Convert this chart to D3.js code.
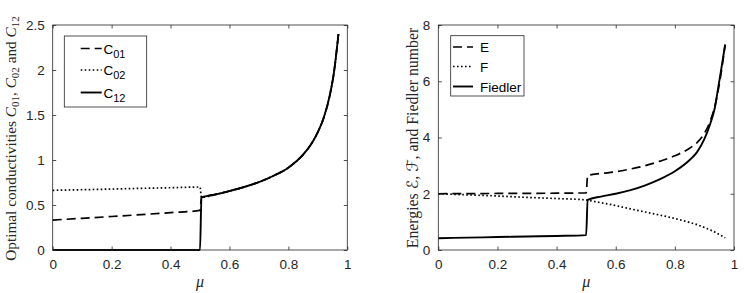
<!DOCTYPE html>
<html><head><meta charset="utf-8">
<script src="https://cdn.jsdelivr.net/npm/d3@7"></script>
<style>body{margin:0;background:#fff}svg{display:block}</style>
</head><body><svg id="c" width="750" height="293"></svg>
<script>
// ---------- data ----------
// Left panel: optimal conductivities
const muLow = [0, 0.1, 0.2, 0.3, 0.4, 0.5];
const c01Low = [0.333, 0.352, 0.372, 0.393, 0.415, 0.44];
const c02Low = [0.663, 0.670, 0.677, 0.685, 0.692, 0.70];
const c12Low = [0, 0, 0, 0, 0, 0];
const muHighL = [0.505, 0.55, 0.6, 0.65, 0.7, 0.75, 0.8, 0.85, 0.88, 0.9, 0.92, 0.94, 0.955, 0.97];
const cHigh  = [0.585, 0.615, 0.655, 0.70, 0.755, 0.825, 0.915, 1.06, 1.19, 1.31, 1.47, 1.71, 1.98, 2.40];

// Right panel: energies and Fiedler number
const eLow       = [2.00, 2.005, 2.01, 2.015, 2.02, 2.03];
const fLow       = [2.00, 1.96, 1.92, 1.87, 1.83, 1.78];
const fiedlerLow = [0.42, 0.44, 0.46, 0.48, 0.50, 0.53];
const muHighR    = [0.505, 0.55, 0.6, 0.65, 0.7, 0.75, 0.8, 0.85, 0.875, 0.9, 0.92, 0.935, 0.947, 0.958, 0.97];
const eHigh      = [2.65, 2.72, 2.78, 2.88, 3.00, 3.16, 3.35, 3.62, 3.82, 4.15, 4.60, 5.10, 5.70, 6.40, 7.30];
const fHigh      = [1.77, 1.68, 1.58, 1.46, 1.35, 1.24, 1.12, 0.98, 0.90, 0.80, 0.71, 0.64, 0.57, 0.51, 0.43];
const fiedlerHigh= [1.78, 1.90, 2.00, 2.13, 2.30, 2.52, 2.80, 3.20, 3.48, 3.95, 4.50, 5.05, 5.80, 6.50, 7.30];

const xTicks = [0, 0.2, 0.4, 0.6, 0.8, 1];
const xTickLabels = ["0", "0.2", "0.4", "0.6", "0.8", "1"];
const yTicksL = [0, 0.5, 1, 1.5, 2, 2.5];
const yTickLabelsL = ["0", "0.5", "1", "1.5", "2", "2.5"];
const yTicksR = [0, 2, 4, 6, 8];
const yTickLabelsR = ["0", "2", "4", "6", "8"];

// ---------- drawing ----------
const svg = d3.select('#c');
const AX = '#262626';
const SANS = '"Liberation Sans", Arial, Helvetica, sans-serif';
const SERIF = '"Liberation Serif", "DejaVu Serif", serif';
const styles = {
  dashed: {dash: '9,5', w: 1.7},
  dotted: {dash: '1.6,2.4', w: 1.7},
  solid:  {dash: null, w: 1.9}
};

function panel(o) {
  const g = svg.append('g');
  const x = d3.scaleLinear().domain([0, 1]).range([o.x0, o.x1]);
  const y = d3.scaleLinear().domain([0, o.ymax]).range([250, 25]);

  // series
  const line = d3.line().x(d => x(d[0])).y(d => y(d[1])).curve(d3.curveMonotoneX);
  o.series.forEach(s => {
    const pts = s.mu.map((m, i) => [m, s.v[i]]);
    const st = styles[s.style];
    g.append('path').attr('d', line(pts)).attr('fill', 'none')
      .attr('stroke', '#000').attr('stroke-width', st.w)
      .attr('stroke-dasharray', st.dash).attr('stroke-linejoin', 'round');
  });

  // axes
  const fmtX = (d, i) => xTickLabels[i];
  const fmtY = (d, i) => o.yLabels[i];
  const bottom = g.append('g').attr('transform', `translate(0,250)`)
    .call(d3.axisBottom(x).tickValues(xTicks).tickFormat(fmtX).tickSize(-3.5).tickPadding(9));
  const top = g.append('g').attr('transform', `translate(0,25)`)
    .call(d3.axisTop(x).tickValues(xTicks).tickFormat('').tickSize(-3.5));
  const left = g.append('g').attr('transform', `translate(${o.x0},0)`)
    .call(d3.axisLeft(y).tickValues(o.yTicks).tickFormat(fmtY).tickSize(-3.5).tickPadding(8));
  const right = g.append('g').attr('transform', `translate(${o.x1},0)`)
    .call(d3.axisRight(y).tickValues(o.yTicks).tickFormat('').tickSize(-3.5));
  [bottom, top, left, right].forEach(a => {
    a.select('.domain').remove();
    a.selectAll('line').attr('stroke', AX).attr('stroke-width', 0.8);
    a.selectAll('text').attr('fill', AX).style('font-family', SANS).style('font-size', '13.5px');
  });
  g.append('rect').attr('x', x(0)).attr('y', y(o.ymax))
    .attr('width', x(1) - x(0)).attr('height', y(0) - y(o.ymax))
    .attr('fill', 'none').attr('stroke', AX).attr('stroke-width', 0.8);

  // x label
  g.append('text').attr('x', (o.x0 + o.x1) / 2).attr('y', 287)
    .attr('text-anchor', 'middle').style('font-family', SERIF)
    .style('font-style', 'italic').style('font-size', '16px').attr('fill', AX).text('μ');

  // y label
  const yl = g.append('text').attr('transform', `translate(${o.ylx},${o.ylc}) rotate(-90)`)
    .attr('text-anchor', 'middle').style('font-family', SERIF).style('font-size', o.ylSize + 'px')
    .attr('fill', AX);
  o.ylParts.forEach(p => {
    const t = yl.append('tspan').text(p.t);
    if (p.i) t.style('font-style', 'italic');
    if (p.f) t.style('font-family', p.f);
    if (p.sub) t.attr('dy', 3).style('font-size', (o.ylSize * 0.72) + 'px');
    if (p.back) t.attr('dy', -3);
  });

  // legend
  const L = o.legend;
  g.append('rect').attr('x', L.x).attr('y', L.y).attr('width', L.w).attr('height', L.h)
    .attr('fill', '#fff').attr('stroke', AX).attr('stroke-width', 0.8);
  L.items.forEach((it, i) => {
    const yy = L.rows[i];
    const st = styles[it.style];
    g.append('line').attr('x1', L.lx1).attr('x2', L.lx2).attr('y1', yy).attr('y2', yy)
      .attr('stroke', '#000').attr('stroke-width', st.w).attr('stroke-dasharray', st.dash);
    const t = g.append('text').attr('x', L.tx).attr('y', yy + 5)
      .style('font-family', SANS).style('font-size', '13.5px').attr('fill', '#000');
    t.append('tspan').text(it.name);
    if (it.sub) t.append('tspan').attr('dy', 4).style('font-size', '11px').text(it.sub);
  });
}

panel({
  x0: 52.7, x1: 347.3, ymax: 2.5, yTicks: yTicksL, yLabels: yTickLabelsL,
  series: [
    {mu: muLow.concat(muHighL), v: c01Low.concat(cHigh), style: 'dashed'},
    {mu: muLow.concat(muHighL), v: c02Low.concat(cHigh), style: 'dotted'},
    {mu: muLow.concat(muHighL), v: c12Low.concat(cHigh), style: 'solid'}
  ],
  ylx: 16, ylc: 138.5, ylSize: 15.3,
  ylParts: [
    {t: 'Optimal conductivities '}, {t: 'C', i: true}, {t: '01', sub: true}, {t: ', ', back: true},
    {t: 'C', i: true}, {t: '02', sub: true}, {t: ' and ', back: true},
    {t: 'C', i: true}, {t: '12', sub: true}
  ],
  legend: {x: 64.3, y: 36, w: 82.4, h: 71, lx1: 80.7, lx2: 101.7, tx: 103.5, rows: [48.5, 70, 92.5],
    items: [{name: 'C', sub: '01', style: 'dashed'}, {name: 'C', sub: '02', style: 'dotted'}, {name: 'C', sub: '12', style: 'solid'}]}
});

panel({
  x0: 438.3, x1: 734, ymax: 8, yTicks: yTicksR, yLabels: yTickLabelsR,
  series: [
    {mu: muLow.concat(muHighR), v: eLow.concat(eHigh), style: 'dashed'},
    {mu: muLow.concat(muHighR), v: fLow.concat(fHigh), style: 'dotted'},
    {mu: muLow.concat(muHighR), v: fiedlerLow.concat(fiedlerHigh), style: 'solid'}
  ],
  ylx: 418, ylc: 138, ylSize: 15.8,
  ylParts: [{t: 'Energies '}, {t: 'ℰ', f: '"DejaVu Sans", sans-serif'}, {t: ', '},
            {t: 'ℱ', f: '"DejaVu Sans", sans-serif'}, {t: ', and Fiedler number'}],
  legend: {x: 450.7, y: 35.7, w: 73.3, h: 60.3, lx1: 453, lx2: 473, tx: 480, rows: [47, 66.5, 86.5],
    items: [{name: 'E', style: 'dashed'}, {name: 'F', style: 'dotted'}, {name: 'Fiedler', style: 'solid'}]}
});
</script></body></html>
